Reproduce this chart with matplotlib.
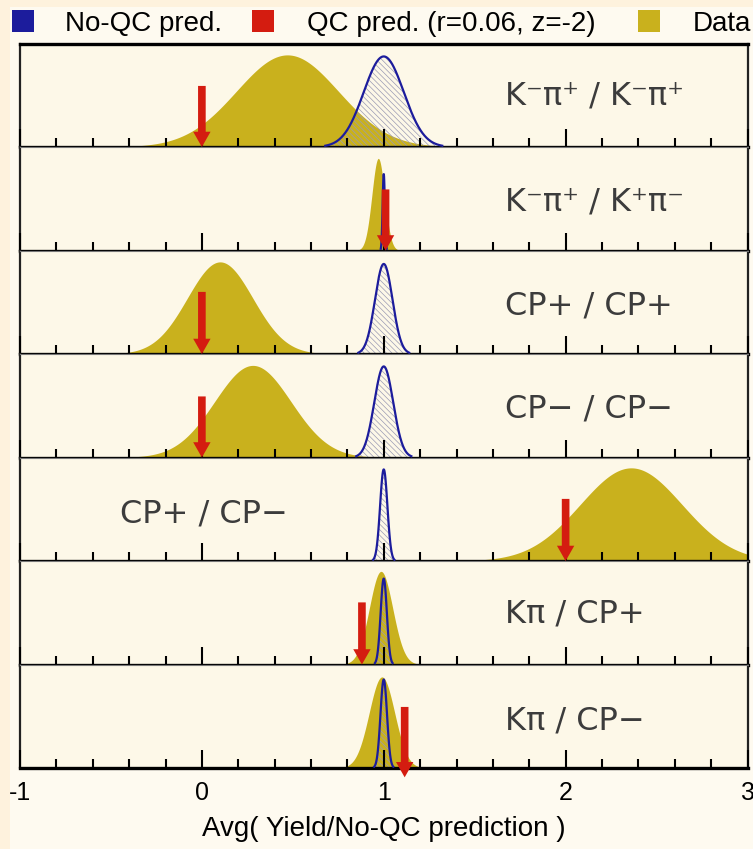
import numpy as np
import matplotlib
matplotlib.use("Agg")
import matplotlib.pyplot as plt
from matplotlib.patches import Rectangle
from matplotlib.ticker import MultipleLocator

# ratio channels, one panel each (top to bottom)
labels = ["K⁻π⁺ / K⁻π⁺", "K⁻π⁺ / K⁺π⁻", "CP+ / CP+", "CP− / CP−",
          "CP+ / CP−", "Kπ / CP+", "Kπ / CP−"]
label_x = [1.665, 1.665, 1.665, 1.665, -0.45, 1.665, 1.665]
label_y = [0.49, 0.47, 0.46, 0.47, 0.45, 0.49, 0.45]

# measured data (gold)
data_mean = [0.47, 0.97, 0.10, 0.28, 2.36, 0.985, 0.99]
data_sigma = [0.28, 0.035, 0.18, 0.21, 0.28, 0.064, 0.07]
data_peak = [0.89, 0.89, 0.89, 0.89, 0.90, 0.90, 0.88]

# prediction without quantum correlations (blue, hatched)
noqc_mean = [1.0, 1.0, 1.0, 1.0, 1.0, 1.0, 1.0]
noqc_sigma = [0.11, 0.006, 0.048, 0.052, 0.02, 0.017, 0.018]
noqc_peak = [0.875, 0.74, 0.87, 0.88, 0.885, 0.83, 0.855]

# QC prediction for r=0.06, z=-2 (red arrows)
qc_pred = [0.0, 1.01, 0.0, 0.0, 2.0, 0.88, 1.115]
qc_top = [0.59, 0.59, 0.60, 0.59, 0.60, 0.60, 0.59]
qc_tip = [0.0, 0.0, 0.0, 0.0, 0.0, 0.0, -0.09]

xticks = [-1, 0, 1, 2, 3]

GOLD = "#C9B11D"
BLUE = "#1C1C9C"
RED = "#D41C10"
PANEL_BG = "#FDF8E8"

W, H = 753, 849
fig = plt.figure(figsize=(W / 100, H / 100), dpi=100, facecolor="#FEF2DD")
plt.rcParams["hatch.linewidth"] = 0.5
plt.rcParams["font.family"] = ["Liberation Sans", "DejaVu Sans"]

def fx(px):
    return px / W

def fy(py):
    return 1 - py / H

# pale backing sheet behind the panels
fig.patches.append(Rectangle((fx(10), 0), 1 - fx(10), fy(7), transform=fig.transFigure,
                             facecolor="#FEFAF0", edgecolor="none", zorder=-5))

left, right, top, bottom = fx(20), fx(747.5), fy(43.5), fy(768)
n = len(labels)
ph = (top - bottom) / n
x = np.linspace(-1, 3, 4000)

axes = []
for i in range(n):
    ax = fig.add_axes([left, top - (i + 1) * ph, right - left, ph])
    ax.set_facecolor(PANEL_BG)
    ax.set_xlim(-1, 3)
    ax.set_ylim(0, 1)
    ax.set_axisbelow(False)

    g = data_peak[i] * np.exp(-0.5 * ((x - data_mean[i]) / data_sigma[i]) ** 2)
    ax.fill_between(x, 0, g, where=g > 0.006, color=GOLD, lw=0, zorder=1)

    b = noqc_peak[i] * np.exp(-0.5 * ((x - noqc_mean[i]) / noqc_sigma[i]) ** 2)
    m = b > 0.012
    ax.fill_between(x[m], 0, b[m], facecolor="none", edgecolor="#9a9ab4",
                    hatch="\\\\\\\\\\\\", lw=0, zorder=2)
    ax.plot(x[m], b[m], color=BLUE, lw=1.6, zorder=3)

    ax.annotate("", xy=(qc_pred[i], qc_tip[i]), xytext=(qc_pred[i], qc_top[i]),
                arrowprops=dict(arrowstyle="simple,head_width=1.25,head_length=1.1,tail_width=0.55",
                                mutation_scale=10, color=RED, lw=0,
                                shrinkA=0, shrinkB=0),
                annotation_clip=False, zorder=5)

    ax.text(label_x[i], label_y[i], labels[i], fontsize=23, color="#3c3c3c",
            ha="left", va="center", family="DejaVu Sans", zorder=4)

    ax.xaxis.set_major_locator(MultipleLocator(1))
    ax.xaxis.set_minor_locator(MultipleLocator(0.2))
    ax.tick_params(axis="x", which="major", direction="in", length=13, width=1.5,
                   color="black", top=False, labelbottom=(i == n - 1),
                   labelsize=18, pad=9)
    ax.tick_params(axis="x", which="minor", direction="in", length=6.5, width=1.5,
                   color="black", top=False)
    ax.set_yticks([])
    ax.spines["bottom"].set_linewidth(2.4)
    ax.spines["top"].set_linewidth(2.4 if i == 0 else 0.8)
    ax.spines["top"].set_color("black" if i == 0 else "#777777")
    for s in ("left", "right"):
        ax.spines[s].set_linewidth(1.6)
        ax.spines[s].set_color("#222222")
    axes.append(ax)

axes[-1].set_xticks(xticks)
axes[-1].set_xticklabels(["-1", "0", "1", "2", "3"])
axes[-1].set_xlabel("Avg( Yield/No-QC prediction )", fontsize=20, labelpad=8)

# legend row across the top
legend_items = [(12, BLUE, 65, "No-QC pred."),
                (252, RED, 307, "QC pred. (r=0.06, z=-2)"),
                (638, GOLD, 693, "Data")]
for sx, col, tx, txt in legend_items:
    fig.patches.append(Rectangle((fx(sx), fy(32)), fx(22), 22 / H,
                                 transform=fig.transFigure, facecolor=col,
                                 edgecolor="none", zorder=3))
    fig.text(fx(tx), fy(31), txt, fontsize=20, ha="left", va="baseline", color="black")

fig.savefig("out.png", dpi=100, facecolor=fig.get_facecolor())
